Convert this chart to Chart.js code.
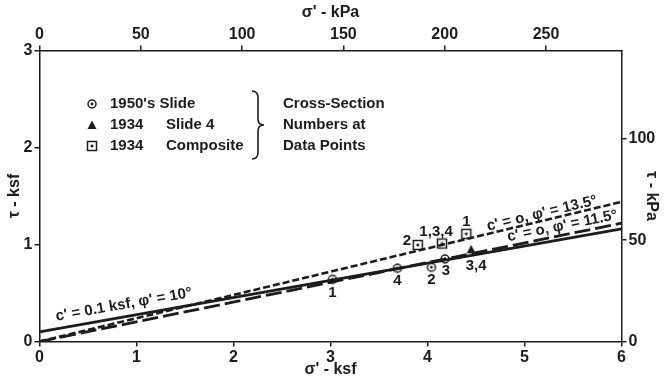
<!DOCTYPE html>
<html>
<head>
<meta charset="utf-8">
<script src="https://cdn.jsdelivr.net/npm/chart.js@4"></script>
<style>
  html, body { margin: 0; padding: 0; background: #fff; }
  canvas { display: block; }
</style>
</head>
<body>
<canvas id="envelopeChart" width="664" height="379"></canvas>
<script>
const KPA_PER_KSF = 47.88;

// failure envelopes, tau (ksf) at sigma' = 0 and 6 ksf
const envelopeSigma = [0, 6];
const envelope10 = [0.10, 1.16];   // c' = 0.1 ksf, phi' = 10
const envelope115 = [0, 1.22];     // c' = 0, phi' = 11.5
const envelope135 = [0, 1.44];     // c' = 0, phi' = 13.5

// 1950's slide
const slide1950Sigma = [3.02, 3.69, 4.04, 4.18];
const slide1950Tau = [0.64, 0.755, 0.765, 0.85];
const slide1950Labels = ['1', '4', '2', '3'];

// 1934 slide 4
const slide4Sigma = [4.45];
const slide4Tau = [0.95];
const slide4Labels = ['3,4'];

// 1934 composite
const compositeSigma = [3.9, 4.15, 4.4];
const compositeTau = [0.995, 1.01, 1.11];
const compositeLabels = ['2', '1,3,4', '1'];

const legendYears = ["1950's Slide", '1934', '1934'];
const legendNames = ['', 'Slide 4', 'Composite'];
const braceNote = ['Cross-Section', 'Numbers at', 'Data Points'];

const INK = '#1c1c1c';
const FONT = '"Liberation Sans", Arial, sans-serif';

function makeMarker(kind) {
  const c = document.createElement('canvas');
  c.width = 14; c.height = 14;
  const g = c.getContext('2d');
  g.strokeStyle = INK; g.lineWidth = 1.5;
  if (kind === 'circle') {
    g.beginPath(); g.arc(7, 7, 4, 0, Math.PI * 2);
    g.fillStyle = '#fff'; g.fill(); g.stroke();
    g.beginPath(); g.arc(7, 7, 1.4, 0, Math.PI * 2);
    g.fillStyle = INK; g.fill();
  } else if (kind === 'triangle') {
    g.beginPath(); g.moveTo(7, 2.5); g.lineTo(11.5, 11); g.lineTo(2.5, 11); g.closePath();
    g.fillStyle = INK; g.fill();
  } else {
    g.fillStyle = '#fff'; g.fillRect(2.5, 2.5, 9, 9); g.strokeRect(2.5, 2.5, 9, 9);
    g.fillStyle = INK; g.fillRect(5.7, 5.7, 2.6, 2.6);
  }
  return c;
}
const markers = { circle: makeMarker('circle'), triangle: makeMarker('triangle'), square: makeMarker('square') };

const toPoints = (xs, ys) => xs.map((x, i) => ({ x: x, y: ys[i] }));

// cross-section numbers next to the points
const pointLabelPlugin = {
  id: 'pointLabels',
  afterDatasetsDraw(chart) {
    const ctx = chart.ctx;
    ctx.save();
    ctx.font = 'bold 15px ' + FONT;
    ctx.fillStyle = INK;
    ctx.textAlign = 'center';
    ctx.textBaseline = 'middle';
    chart.data.datasets.forEach((ds, i) => {
      if (!ds.pointLabels) return;
      chart.getDatasetMeta(i).data.forEach((pt, j) => {
        const off = ds.labelOffsets[j];
        ctx.fillText(ds.pointLabels[j], pt.x + off[0], pt.y + off[1]);
      });
    });
    ctx.restore();
  }
};

// text written along the envelopes
const envelopeTextPlugin = {
  id: 'envelopeText',
  afterDatasetsDraw(chart, args, opts) {
    const { ctx, scales } = chart;
    ctx.save();
    ctx.font = 'bold 15px ' + FONT;
    ctx.fillStyle = INK;
    ctx.textAlign = 'center';
    ctx.textBaseline = 'middle';
    opts.items.forEach(it => {
      const pts = chart.getDatasetMeta(it.dataset).data;
      const ang = Math.atan2(pts[1].y - pts[0].y, pts[1].x - pts[0].x);
      ctx.save();
      ctx.translate(scales.x.getPixelForValue(it.sigma), scales.y.getPixelForValue(it.tau));
      ctx.rotate(ang);
      ctx.fillText(it.text, 0, 0);
      ctx.restore();
    });
    ctx.restore();
  }
};

// legend box with brace
const keyPlugin = {
  id: 'keyBox',
  afterDraw(chart) {
    const ctx = chart.ctx;
    const rowY = [104, 125, 146];
    const icons = [markers.circle, markers.triangle, markers.square];
    ctx.save();
    ctx.font = 'bold 15px ' + FONT;
    ctx.fillStyle = INK;
    ctx.textBaseline = 'middle';
    rowY.forEach((y, i) => {
      ctx.drawImage(icons[i], 92 - 7, y - 7);
      ctx.fillText(legendYears[i], 110, y);
      ctx.fillText(legendNames[i], 166, y);
      ctx.fillText(braceNote[i], 283, y);
    });
    ctx.strokeStyle = INK;
    ctx.lineWidth = 1.6;
    ctx.beginPath();
    ctx.moveTo(252, 91);
    ctx.quadraticCurveTo(258, 91, 258, 98);
    ctx.lineTo(258, 119);
    ctx.quadraticCurveTo(258, 125, 264, 125);
    ctx.quadraticCurveTo(258, 125, 258, 131);
    ctx.lineTo(258, 152);
    ctx.quadraticCurveTo(258, 159, 252, 159);
    ctx.stroke();
    ctx.restore();
  }
};

const tickFont = { family: FONT, size: 16, weight: 'bold' };
const titleFont = { family: FONT, size: 16, weight: 'bold' };
const axisBorder = { display: true, color: INK, width: 1.5 };
const axisGrid = { drawOnChartArea: false, drawTicks: true, tickLength: 5, color: INK, lineWidth: 1.5 };

new Chart(document.getElementById('envelopeChart'), {
  type: 'line',
  data: {
    datasets: [
      {
        data: toPoints(envelopeSigma, envelope10),
        borderColor: INK, borderWidth: 2.8, pointRadius: 0, xAxisID: 'x', yAxisID: 'y'
      },
      {
        data: toPoints(envelopeSigma, envelope115),
        borderColor: INK, borderWidth: 2.8, borderDash: [16, 5], pointRadius: 0, xAxisID: 'x', yAxisID: 'y'
      },
      {
        data: toPoints(envelopeSigma, envelope135),
        borderColor: INK, borderWidth: 2.6, borderDash: [7, 3], pointRadius: 0, xAxisID: 'x', yAxisID: 'y'
      },
      {
        data: toPoints(slide1950Sigma, slide1950Tau),
        showLine: false, pointStyle: markers.circle, pointRadius: 5,
        pointLabels: slide1950Labels,
        labelOffsets: [[0, 13], [0, 13], [0, 13], [1, 12]],
        xAxisID: 'x', yAxisID: 'y'
      },
      {
        data: toPoints(slide4Sigma, slide4Tau),
        showLine: false, pointStyle: markers.triangle, pointRadius: 5,
        pointLabels: slide4Labels,
        labelOffsets: [[5, 17]],
        xAxisID: 'x', yAxisID: 'y'
      },
      {
        data: toPoints(compositeSigma, compositeTau),
        showLine: false, pointStyle: markers.square, pointRadius: 5,
        pointLabels: compositeLabels,
        labelOffsets: [[-11, -4], [-6, -12], [0, -12]],
        xAxisID: 'x', yAxisID: 'y'
      }
    ]
  },
  options: {
    responsive: false,
    animation: false,
    layout: { padding: 0 },
    plugins: {
      legend: { display: false },
      tooltip: { enabled: false },
      envelopeText: {
        items: [
          { dataset: 0, sigma: 0.87, tau: 0.38, text: "c' = 0.1 ksf, \u03c6' = 10\u00b0" },
          { dataset: 2, sigma: 5.18, tau: 1.32, text: "c' = o, \u03c6' = 13.5\u00b0" },
          { dataset: 1, sigma: 5.39, tau: 1.19, text: "c' = o, \u03c6' = 11.5\u00b0" }
        ]
      }
    },
    scales: {
      x: {
        type: 'linear', position: 'bottom', min: 0, max: 6,
        border: axisBorder, grid: axisGrid,
        ticks: { stepSize: 1, color: INK, font: tickFont, padding: 1, maxRotation: 0 },
        title: { display: true, text: "\u03c3' - ksf", color: INK, font: titleFont, padding: { top: 0, bottom: 0 } },
        afterFit(s) { s.height = 37.5; }
      },
      xTop: {
        type: 'linear', position: 'top', min: 0, max: 6 * KPA_PER_KSF,
        border: axisBorder, grid: axisGrid,
        ticks: { stepSize: 50, includeBounds: false, color: INK, font: tickFont, padding: 1, maxRotation: 0 },
        title: { display: true, text: "\u03c3' - kPa", color: INK, font: titleFont, padding: { top: 3, bottom: 0 } },
        afterFit(s) { s.height = 50.5; }
      },
      y: {
        type: 'linear', position: 'left', min: 0, max: 3,
        border: axisBorder, grid: axisGrid,
        ticks: { stepSize: 1, color: INK, font: tickFont, padding: 2 },
        title: { display: true, text: '\u03c4 - ksf', color: INK, font: titleFont, padding: { top: 5, bottom: 0 } },
        afterFit(s) { s.width = 39.5; }
      },
      yRight: {
        type: 'linear', position: 'right', min: 0, max: 3 * KPA_PER_KSF,
        border: axisBorder, grid: axisGrid,
        ticks: { stepSize: 50, includeBounds: false, color: INK, font: tickFont, padding: 2 },
        title: { display: true, text: '\u03c4 - kPa', color: INK, font: titleFont, padding: { top: 3, bottom: 0 } },
        afterFit(s) { s.width = 42.5; }
      }
    }
  },
  plugins: [pointLabelPlugin, envelopeTextPlugin, keyPlugin]
});
</script>
</body>
</html>
